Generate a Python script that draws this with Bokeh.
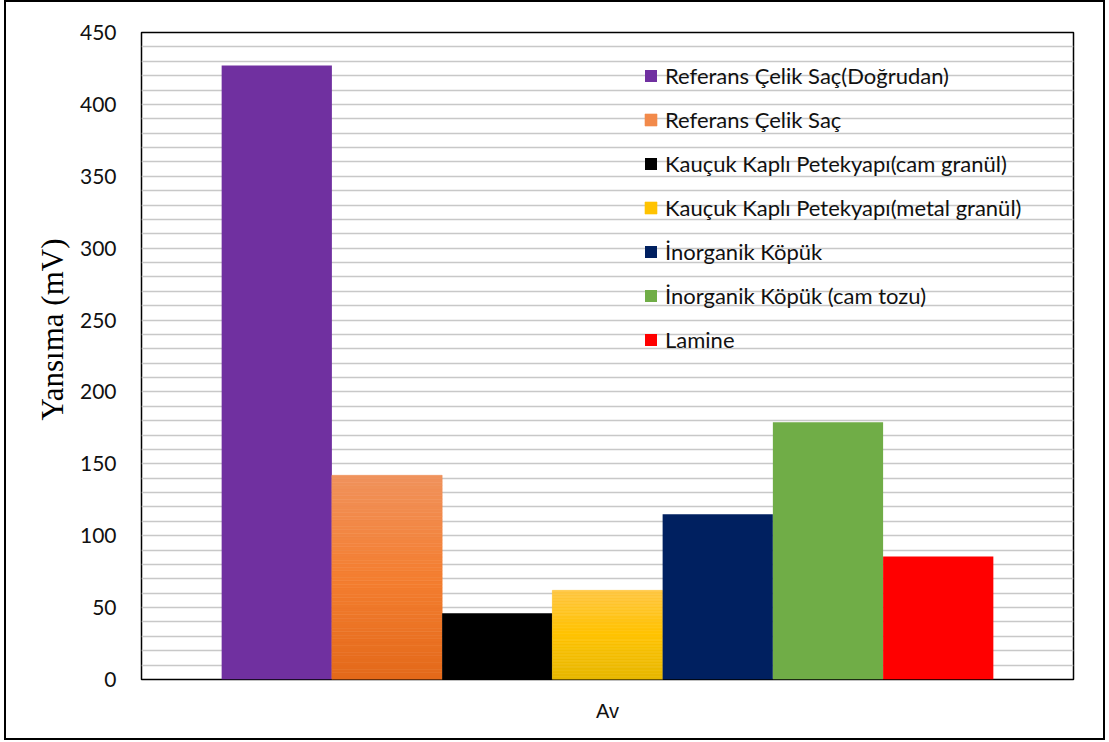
from bokeh.plotting import figure
from bokeh.models import (Range1d, FactorRange, SingleIntervalTicker, ColumnDataSource,
                          Legend, LegendItem, Title)
from bokeh.transform import dodge
from bokeh.embed import file_html
from bokeh.resources import INLINE

# --- data -------------------------------------------------------------
category = "Av"
series = [
    "Referans Çelik Saç(Doğrudan)",
    "Referans Çelik Saç",
    "Kauçuk Kaplı Petekyapı(cam granül)",
    "Kauçuk Kaplı Petekyapı(metal granül)",
    "İnorganik Köpük",
    "İnorganik Köpük (cam tozu)",
    "Lamine",
]
values = [427, 142, 46, 62, 115, 179, 85.5]
colors = ["#7030a0", "#ef8b4f", "#000000", "#ffc000", "#002060", "#70ad47", "#ff0000"]
# bottom / middle / top colour stops for the bars with a shaded fill
gradients = {
    1: ["#e3691a", "#f47e30", "#f0925c"],
    3: ["#e6b700", "#ffc300", "#ffc640"],
}
y_ticks_step = 50
y_max = 450
y_title = "Yansıma (mV)"

FONT = "Lato"


def _hex(c):
    c = c.lstrip("#")
    return [int(c[i:i + 2], 16) for i in (0, 2, 4)]


def blend(stops, t):
    # piecewise-linear colour between the three stops, t in [0, 1]
    if t <= 0.5:
        a, b, u = stops[0], stops[1], t / 0.5
    else:
        a, b, u = stops[1], stops[2], (t - 0.5) / 0.5
    ca, cb = _hex(a), _hex(b)
    return "#%02x%02x%02x" % tuple(round(x + (y - x) * u) for x, y in zip(ca, cb))


p = figure(
    x_range=FactorRange(category, range_padding=0),
    y_range=Range1d(0, y_max),
    frame_width=932, frame_height=647,
    min_border_left=135, min_border_right=30, min_border_top=30, min_border_bottom=59,
    output_backend="svg", toolbar_location=None,
    background_fill_color="white", border_fill_color="white",
)
p.styles = {"border": "2px solid black", "margin-left": "4px"}

group_share = 0.828
bar_w = group_share / len(series)

items = []
for i, (name, v) in enumerate(zip(series, values)):
    off = (i - (len(series) - 1) / 2) * bar_w
    if i in gradients:
        n = 60
        src = ColumnDataSource(dict(
            x=[category] * n,
            bottom=[v * k / n for k in range(n)],
            top=[v * (k + 1) / n for k in range(n)],
            color=[blend(gradients[i], (k + 0.5) / n) for k in range(n)],
        ))
        r = p.vbar(x=dodge("x", off, range=p.x_range), width=bar_w, bottom="bottom", top="top",
                   fill_color="color", line_color="color", line_width=0.6, source=src)
        idx = int(n * 0.8) if i == 1 else n // 2
        items.append(LegendItem(label=name, renderers=[r], index=idx))
    else:
        src = ColumnDataSource(dict(x=[category], top=[v], color=[colors[i]]))
        r = p.vbar(x=dodge("x", off, range=p.x_range), width=bar_w, bottom=0, top="top",
                   fill_color="color", line_color=None, source=src)
        items.append(LegendItem(label=name, renderers=[r], index=0))

legend = Legend(
    items=items, location=(502, 326),
    background_fill_alpha=0, border_line_color=None,
    label_text_font=FONT, label_text_font_size="22px", label_text_color="#111111",
    glyph_width=15, glyph_height=15, label_standoff=7, spacing=17,
    padding=0, margin=0, label_height=20,
)
p.add_layout(legend)

# axes and grid
p.yaxis.ticker = SingleIntervalTicker(interval=y_ticks_step, num_minor_ticks=5)
p.ygrid.grid_line_color = None
p.ygrid.minor_grid_line_color = "#c8c8c8"
p.ygrid.minor_grid_line_width = 1.6
p.xgrid.grid_line_color = None

for ax in (p.xaxis, p.yaxis):
    ax.axis_line_color = None
    ax.major_tick_line_color = None
    ax.minor_tick_line_color = None
    ax.major_label_text_color = "#111111"

p.yaxis.major_label_text_font = FONT
p.yaxis.major_label_text_font_size = "21px"
p.yaxis.major_label_standoff = 19
p.xaxis.major_label_text_font = "Liberation Sans"
p.xaxis.major_label_text_font_size = "20px"
p.xaxis.major_label_standoff = 14

# y title, starting partway up the left side
p.add_layout(Title(text=y_title, align="left", offset=259, standoff=14,
                   text_font="Liberation Serif", text_font_size="31px",
                   text_font_style="normal", text_color="#000000"), "left")

p.outline_line_color = "black"
p.outline_line_width = 1.5

open("out.html", "w").write(file_html(p, INLINE))
